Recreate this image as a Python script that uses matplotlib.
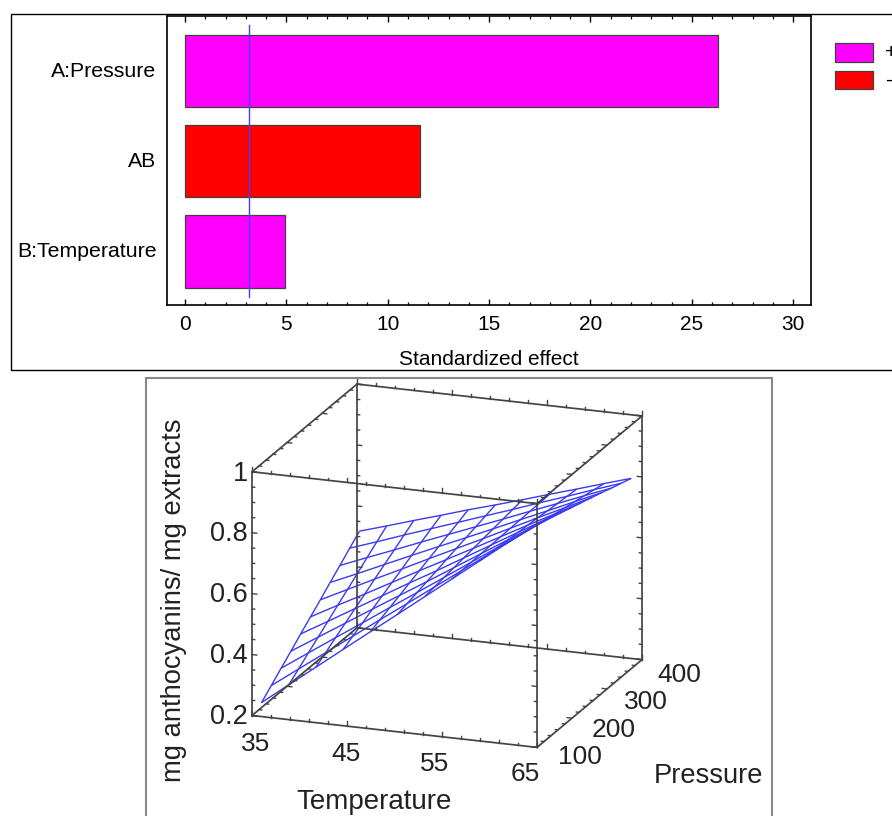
import numpy as np
import matplotlib
matplotlib.use('Agg')
import matplotlib.pyplot as plt
from matplotlib.patches import Rectangle
from mpl_toolkits.mplot3d import Axes3D

plt.rcParams['font.family'] = ['Liberation Sans', 'DejaVu Sans']

W, H = 892, 816

# Pareto chart data
factors = ['A:Pressure', 'AB', 'B:Temperature']
effects = [26.3, 11.6, 4.93]
bar_colors = ['#ff00ff', '#ff0000', '#ff00ff']
critical = 3.16
legend_labels = ['+', '-']
legend_colors = ['#ff00ff', '#ff0000']

# Surface data, rows = temperature, columns = pressure
temperature = [36.0, 38.86, 41.72, 44.58, 47.44, 50.3, 53.16, 56.02, 58.88, 61.74, 64.6]
pressure = [100, 128, 156, 184, 212, 240, 268, 296, 324, 352, 380]
anthocyanins = [
    [.246, .275, .305, .334, .364, .393, .422, .452, .481, .511, .540],
    [.314, .339, .365, .390, .415, .441, .466, .491, .517, .542, .567],
    [.382, .403, .425, .446, .467, .488, .510, .531, .552, .574, .595],
    [.450, .467, .484, .502, .519, .536, .553, .571, .588, .605, .622],
    [.518, .531, .544, .557, .571, .584, .597, .610, .623, .636, .650],
    [.585, .594, .603, .612, .621, .631, .640, .649, .658, .667, .676],
    [.653, .658, .663, .668, .673, .678, .683, .688, .693, .698, .703],
    [.721, .722, .723, .724, .725, .726, .727, .728, .729, .730, .731],
    [.789, .786, .783, .780, .777, .774, .771, .767, .764, .761, .758],
    [.857, .850, .843, .836, .829, .821, .814, .807, .800, .793, .786],
    [.925, .914, .903, .891, .880, .869, .858, .847, .835, .824, .813],
]
temp_labels = ['35', '45', '55', '65']
pres_labels = ['100', '200', '300', '400']
z_labels = ['0.2', '0.4', '0.6', '0.8', '1']


def fx(x):
    return x / W


def fy(y):
    return 1 - y / H


def frame(x0, y0, x1, y1, color, lw):
    fig.add_artist(Rectangle((fx(x0), fy(y1)), (x1 - x0) / W, (y1 - y0) / H,
                             transform=fig.transFigure, fill=False, edgecolor=color, linewidth=lw))


fig = plt.figure(figsize=(W / 100, H / 100), dpi=100)

# outer frames, they run off the picture on the right and at the bottom
frame(11, 14.5, 900, 370, 'black', 1.0)
frame(146, 377.5, 772, 830, '#888888', 1.5)

# Pareto chart
ax = fig.add_axes([fx(167), fy(305), (811 - 167) / W, (305 - 16) / H])
ypos = np.arange(len(factors))[::-1]
ax.barh(ypos, effects, height=0.8, color=bar_colors, edgecolor='#404040', linewidth=0.9)
ax.plot([critical, critical], [-0.505, 2.51], color='#4040ff', linewidth=1.0)
ax.set_xlim(-0.89, 30.88)
ax.set_ylim(-0.593, 2.61)
# labels sit a little higher than the bar centres
ax.set_yticks(ypos + 0.02)
ax.set_yticklabels(factors, fontsize=15.3)
ax.set_xticks(np.arange(0, 31, 5))
ax.set_xticks(np.arange(0, 31, 1), minor=True)
ax.tick_params(axis='y', left=False, pad=4)
ax.tick_params(axis='x', which='major', direction='in', top=True, length=4.5, width=1.0, labelsize=15, pad=7)
ax.tick_params(axis='x', which='minor', direction='in', top=True, length=2.2, width=0.9)
ax.set_xlabel('Standardized effect', fontsize=15, labelpad=12)
for s in ax.spines.values():
    s.set_linewidth(1.2)

# legend drawn by hand, the right side is cut by the picture edge
for y0, y1, lab, col in zip([43.5, 71.5], [62, 88.5], legend_labels, legend_colors):
    fig.add_artist(Rectangle((fx(835), fy(y1)), 38 / W, (y1 - y0) / H, transform=fig.transFigure,
                             facecolor=col, edgecolor='#404040', linewidth=0.9))
    fig.text(fx(885), fy((y0 + y1) / 2), lab, fontsize=15, ha='left', va='center')

# Surface chart
side = 600
ax3 = fig.add_axes([fx(447 - 0.5135 * side), fy(565.75 + 0.5135 * side), side / W, side / H],
                   projection='3d', proj_type='ortho', computed_zorder=False)
ax3.view_init(elev=17.8, azim=-69.9)
ax3.set_box_aspect((303.5, 305.5, 256), zoom=486.3 / side)
ax3.set_xlim(35, 65)
ax3.set_ylim(100, 400)
ax3.set_zlim(0.2, 1)
ax3.set_axis_off()
ax3.patch.set_alpha(0)

X, Y = np.meshgrid(temperature, pressure, indexing='ij')
ax3.plot_wireframe(X, Y, np.array(anthocyanins), rstride=1, cstride=1, color='#3a3af0', linewidth=1.0, zorder=1)

# cube edges
edge = dict(color='#444444', linewidth=1.25, zorder=2)
for t in [35, 65]:
    for p in [100, 400]:
        ax3.plot([t, t], [p, p], [0.2, 1], **edge)
for p in [100, 400]:
    for z in [0.2, 1]:
        ax3.plot([35, 65], [p, p], [z, z], **edge)
for t in [35, 65]:
    for z in [0.2, 1]:
        ax3.plot([t, t], [100, 400], [z, z], **edge)

# little ticks along the cube edges, longer on the major ones
tick = dict(color='#444444', linewidth=1.0, zorder=2)
for p in [100, 400]:
    for z in [0.2, 1]:
        for i, t in enumerate(np.arange(35, 66, 2)):
            ln = 0.016 if i % 5 == 0 else 0.009
            ax3.plot([t, t], [p, p], [z, z + ln], **tick)
for t in [35, 65]:
    sign = 1 if t == 35 else -1
    for z in [0.2, 1]:
        for i, p in enumerate(np.arange(100, 401, 20)):
            ln = 0.5 if i % 5 == 0 else 0.28
            ax3.plot([t, t + sign * ln], [p, p], [z, z], **tick)
    for p in [100, 400]:
        for i, z in enumerate(np.arange(0.2, 1.01, 0.05)):
            ln = 0.5 if i % 4 == 0 else 0.28
            ax3.plot([t, t + sign * ln], [p, p], [z, z], **tick)

# axis text placed in picture coordinates
for lab, x, y in zip(temp_labels, [256, 346, 435, 525], [744, 754, 764, 774]):
    fig.text(fx(x), fy(y), lab, fontsize=19, ha='center', va='center', color='#222222')
for lab, x, y in zip(pres_labels, [580, 614, 646, 679], [757, 730, 702, 675]):
    fig.text(fx(x), fy(y), lab, fontsize=19, ha='center', va='center', color='#222222')
for lab, y in zip(z_labels, [717, 656, 595, 534, 474]):
    fig.text(fx(248), fy(y), lab, fontsize=19.5, ha='right', va='center', color='#222222')
fig.text(fx(374), fy(802), 'Temperature', fontsize=20, ha='center', va='center', color='#222222')
fig.text(fx(708), fy(776), 'Pressure', fontsize=19.6, ha='center', va='center', color='#222222')
fig.text(fx(174), fy(600), 'mg anthocyanins/ mg extracts', fontsize=19.7, rotation=90, ha='center', va='center', color='#222222')

plt.savefig('out.png', dpi=100)
plt.close()
